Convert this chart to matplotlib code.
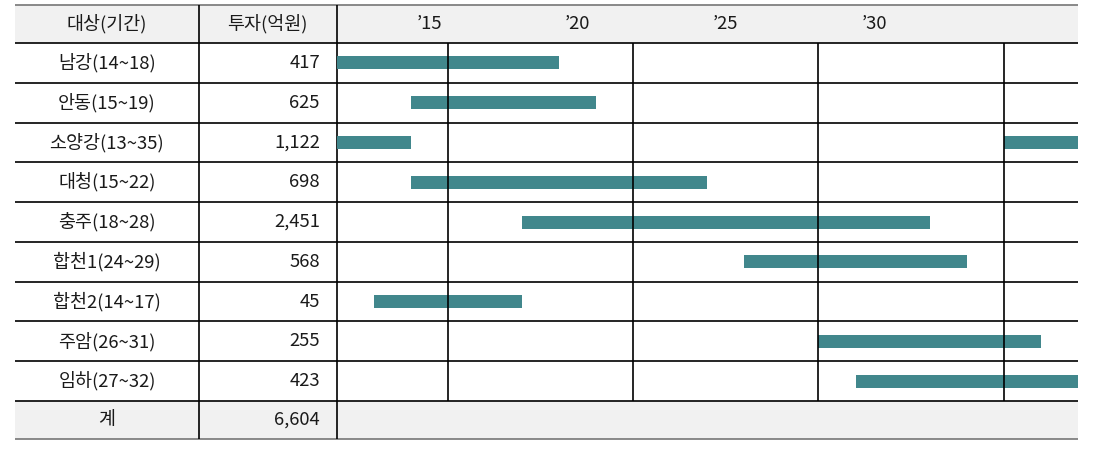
import matplotlib
matplotlib.use("Agg")
import matplotlib.pyplot as plt
from matplotlib.patches import Rectangle
from matplotlib import transforms

plt.rcParams['font.family'] = ['Noto Sans CJK KR', 'DejaVu Sans']

# ---- data ----
header_name = "대상(기간)"
header_invest = "투자(억원)"
names = ["남강(14~18)", "안동(15~19)", "소양강(13~35)", "대청(15~22)", "충주(18~28)",
         "합천1(24~29)", "합천2(14~17)", "주암(26~31)", "임하(27~32)"]
invest = ["417", "625", "1,122", "698", "2,451", "568", "45", "255", "423"]
total_label = "계"
total_value = "6,604"

# bar segments as drawn (row index, start year, end year)
seg_row = [0, 1, 2, 2, 3, 4, 5, 6, 7, 8]
seg_start = [13, 15, 13, 31, 15, 18, 24, 14, 26, 27]
seg_end = [19, 20, 15, 33, 23, 29, 30, 18, 32, 33]

year_ticks = [15.5, 19.5, 23.5, 27.5]
year_labels = ["\u201915", "\u201920", "\u201925", "\u201930"]
grid_years = [16, 21, 26, 31]
x_min, x_max = 13, 33

# ---- layout (pixels) ----
W, H = 1097, 449
left, right = 15, 1078
col1, col2 = 199, 336.5
top, head_bot = 5, 43
row_h = (401 - 43) / 9
body_bot = head_bot + row_h * len(names)
bottom = 439

bar_color = "#41878C"
gray_bg = "#F1F1F1"
text_color = "#1a1a1a"
fs = 13.3

fig = plt.figure(figsize=(W / 100, H / 100), dpi=100)
bg = fig.add_axes([0, 0, 1, 1])
bg.set_xlim(0, W)
bg.set_ylim(H, 0)
bg.axis("off")

# shaded header and total rows
bg.add_patch(Rectangle((left, top), right - left, head_bot - top, color=gray_bg, lw=0, zorder=0))
bg.add_patch(Rectangle((left, body_bot), right - left, bottom - body_bot, color=gray_bg, lw=0, zorder=0))

# outer gray borders
bg.plot([left, right], [top, top], color="#808080", lw=1.3, solid_capstyle="butt", zorder=3)
bg.plot([left, right], [bottom, bottom], color="#808080", lw=1.3, solid_capstyle="butt", zorder=3)

# row separators
for i in range(len(names) + 1):
    y = head_bot + i * row_h
    bg.plot([left, right], [y, y], color="black", lw=1.2, solid_capstyle="butt", zorder=3)

# column separators
for x in (col1, col2):
    bg.plot([x, x], [top, bottom], color="black", lw=1.2, solid_capstyle="butt", zorder=3)

name_x = (left + col1) / 2
inv_x = 320
bg.text(name_x, (top + head_bot) / 2, header_name, ha="center", va="center", fontsize=fs, color=text_color)
bg.text((col1 + col2) / 2, (top + head_bot) / 2, header_invest, ha="center", va="center", fontsize=fs, color=text_color)
for i, (n, v) in enumerate(zip(names, invest)):
    yc = head_bot + (i + 0.5) * row_h
    bg.text(name_x, yc, n, ha="center", va="center", fontsize=fs, color=text_color)
    bg.text(inv_x, yc, v, ha="right", va="center", fontsize=fs, color=text_color)
yc = (body_bot + bottom) / 2
bg.text(name_x, yc, total_label, ha="center", va="center", fontsize=fs, color=text_color)
bg.text(inv_x, yc, total_value, ha="right", va="center", fontsize=fs, color=text_color)

# ---- gantt axes ----
ax = fig.add_axes([col2 / W, 1 - body_bot / H, (right - col2) / W, (body_bot - head_bot) / H])
ax.set_xlim(x_min, x_max)
ax.set_ylim(len(names), 0)
ax.patch.set_alpha(0)
ax.axis("off")
bar_h = 13 / row_h
ax.barh([r + 0.5 for r in seg_row], [e - s for s, e in zip(seg_start, seg_end)],
        left=seg_start, height=bar_h, color=bar_color, zorder=2)
for gx in grid_years:
    ax.axvline(gx, color="black", lw=1.2, zorder=3)

trans = transforms.blended_transform_factory(ax.transData, bg.transData)
for t, lab in zip(year_ticks, year_labels):
    bg.text(t, (top + head_bot) / 2, lab, transform=trans, ha="center", va="center",
            fontsize=fs, color=text_color)

fig.savefig("out.png", dpi=100)
